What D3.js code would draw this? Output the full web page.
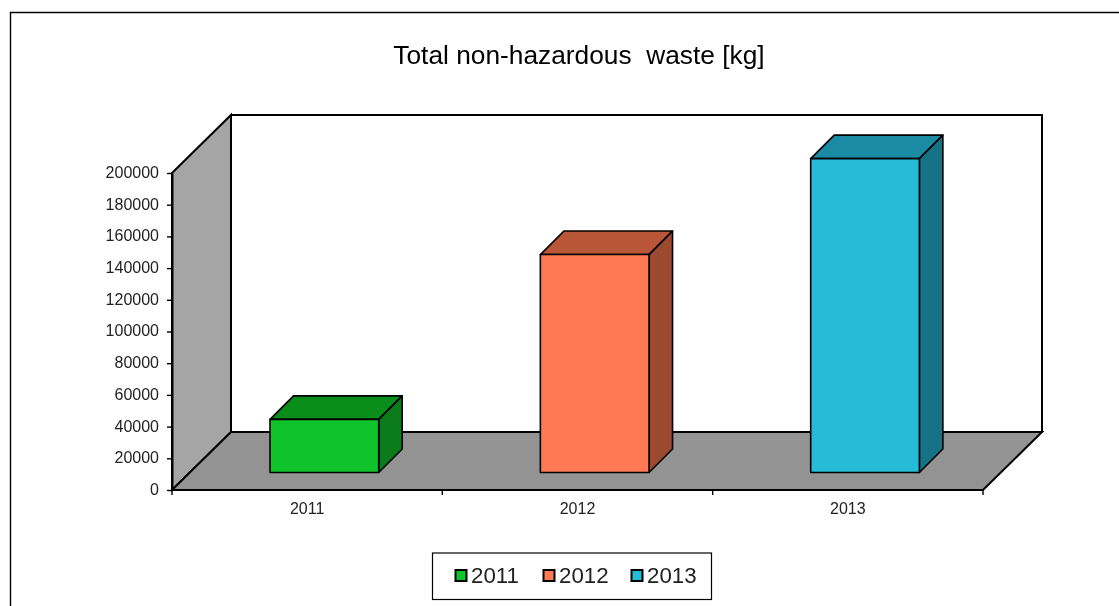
<!DOCTYPE html>
<html>
<head>
<meta charset="utf-8">
<script src="https://cdnjs.cloudflare.com/ajax/libs/d3/7.8.5/d3.min.js"></script>
<style>
html, body { margin: 0; padding: 0; background: #fff; overflow: hidden; }
svg { display: block; filter: blur(0.35px); }
text { font-family: "Liberation Sans", Arial, sans-serif; fill: #222; }
</style>
</head>
<body>
<svg width="1119" height="606"></svg>
<script>
var chartTitle = "Total non-hazardous  waste [kg]";
var categories = ["2011", "2012", "2013"];
var wasteValues = [33500, 137500, 198000];
var yTickValues = [0, 20000, 40000, 60000, 80000, 100000, 120000, 140000, 160000, 180000, 200000];

// face colours per bar
var frontColors = ["#0FC42A", "#FF7A54", "#26BBD6"];
var topColors = ["#098E1C", "#B85637", "#1A8BA2"];
var sideColors = ["#0A7A1A", "#9C4A2F", "#167385"];

var svg = d3.select("svg");

var x = d3.scaleBand().domain(categories).range([172, 983]);
var y = d3.scaleLinear().domain([0, 200000]).range([490, 173]);

// fake 3d: floor depth, and where the bars sit on it
var depthX = 59, depthY = -58;
var barOffX = 17.2, barOffY = -17.5, barDX = 23.5, barDY = -23.5;
var barWidth = x.bandwidth() * 0.402;

function poly(pts) { return pts.map(function(p) { return p.join(","); }).join(" "); }

// outer frame, runs off the right and bottom of the picture
svg.append("path")
    .attr("d", "M10.5,606V12.5H1119")
    .attr("fill", "none")
    .attr("stroke", "#000")
    .attr("stroke-width", 1.4);

svg.append("text")
    .attr("x", 579)
    .attr("y", 64)
    .attr("text-anchor", "middle")
    .attr("font-size", 26.3)
    .style("white-space", "pre")
    .style("fill", "#000")
    .text(chartTitle);

var x0 = x.range()[0], x1 = x.range()[1], y0 = y(0), yTop = y(200000);

// back wall
svg.append("polygon")
    .attr("points", poly([[x0 + depthX, yTop + depthY], [x1 + depthX, yTop + depthY], [x1 + depthX, y0 + depthY], [x0 + depthX, y0 + depthY]]))
    .attr("fill", "#fff")
    .attr("stroke", "#000")
    .attr("stroke-width", 2);

// left wall
svg.append("polygon")
    .attr("points", poly([[x0, yTop], [x0 + depthX, yTop + depthY], [x0 + depthX, y0 + depthY], [x0, y0]]))
    .attr("fill", "#A5A5A5")
    .attr("stroke", "#000")
    .attr("stroke-width", 2);

// floor
svg.append("polygon")
    .attr("points", poly([[x0, y0], [x0 + depthX, y0 + depthY], [x1 + depthX, y0 + depthY], [x1, y0]]))
    .attr("fill", "#939393")
    .attr("stroke", "#000")
    .attr("stroke-width", 2);

var bars = svg.selectAll(".bar")
    .data(categories)
    .enter().append("g")
      .attr("class", "bar");

function barBox(d, i) {
    var left = x(d) + (x.bandwidth() - barWidth) / 2 + barOffX;
    return { l: left, r: left + barWidth, t: y(wasteValues[i]) + barOffY, b: y(0) + barOffY };
}

bars.append("polygon")
    .attr("points", function(d, i) {
        var b = barBox(d, i);
        return poly([[b.l, b.t], [b.l + barDX, b.t + barDY], [b.r + barDX, b.t + barDY], [b.r, b.t]]);
    })
    .attr("fill", function(d, i) { return topColors[i]; });

bars.append("polygon")
    .attr("points", function(d, i) {
        var b = barBox(d, i);
        return poly([[b.r, b.t], [b.r + barDX, b.t + barDY], [b.r + barDX, b.b + barDY], [b.r, b.b]]);
    })
    .attr("fill", function(d, i) { return sideColors[i]; });

bars.append("polygon")
    .attr("points", function(d, i) {
        var b = barBox(d, i);
        return poly([[b.l, b.t], [b.r, b.t], [b.r, b.b], [b.l, b.b]]);
    })
    .attr("fill", function(d, i) { return frontColors[i]; });

bars.selectAll("polygon")
    .attr("stroke", "#000")
    .attr("stroke-width", 1.6)
    .attr("stroke-linejoin", "round");

// axes
var yAxis = svg.append("g")
    .attr("transform", "translate(" + x0 + ",0)")
    .call(d3.axisLeft(y).tickValues(yTickValues).tickSize(5).tickSizeOuter(0).tickPadding(8).tickFormat(d3.format("d")));

var xAxis = svg.append("g")
    .attr("transform", "translate(0," + y0 + ")")
    .call(d3.axisBottom(x).tickSize(0).tickPadding(12.5));

xAxis.selectAll(".domain").remove();
yAxis.select(".domain").attr("stroke-width", 2);
yAxis.selectAll("line").attr("stroke-width", 1.4);

// x ticks go on the band edges, not the centres
var edges = categories.map(function(d) { return x(d); }).concat([x1]);
svg.selectAll(".edge-tick")
    .data(edges)
    .enter().append("line")
      .attr("class", "edge-tick")
      .attr("x1", function(d) { return d; })
      .attr("x2", function(d) { return d; })
      .attr("y1", y0)
      .attr("y2", y0 + 5)
      .attr("stroke", "#000")
      .attr("stroke-width", 1.4);

yAxis.selectAll("text").attr("font-size", 16).attr("font-family", null).attr("dy", "0.28em");
xAxis.selectAll("text").attr("font-size", 16).attr("font-family", null);

// legend
var legend = svg.append("g");
legend.append("rect")
    .attr("x", 432.5)
    .attr("y", 553)
    .attr("width", 279)
    .attr("height", 46.5)
    .attr("fill", "#fff")
    .attr("stroke", "#000")
    .attr("stroke-width", 1.2);

var legendX = d3.scalePoint().domain(categories).range([455.5, 631.5]);

var items = legend.selectAll(".item")
    .data(categories)
    .enter().append("g")
      .attr("class", "item")
      .attr("transform", function(d) { return "translate(" + legendX(d) + ",570)"; });

items.append("rect")
    .attr("width", 11)
    .attr("height", 11)
    .attr("fill", function(d, i) { return frontColors[i]; })
    .attr("stroke", "#000")
    .attr("stroke-width", 2);

items.append("text")
    .attr("x", 15.5)
    .attr("y", 13)
    .attr("font-size", 22.3)
    .text(function(d) { return d; });
</script>
</body>
</html>
